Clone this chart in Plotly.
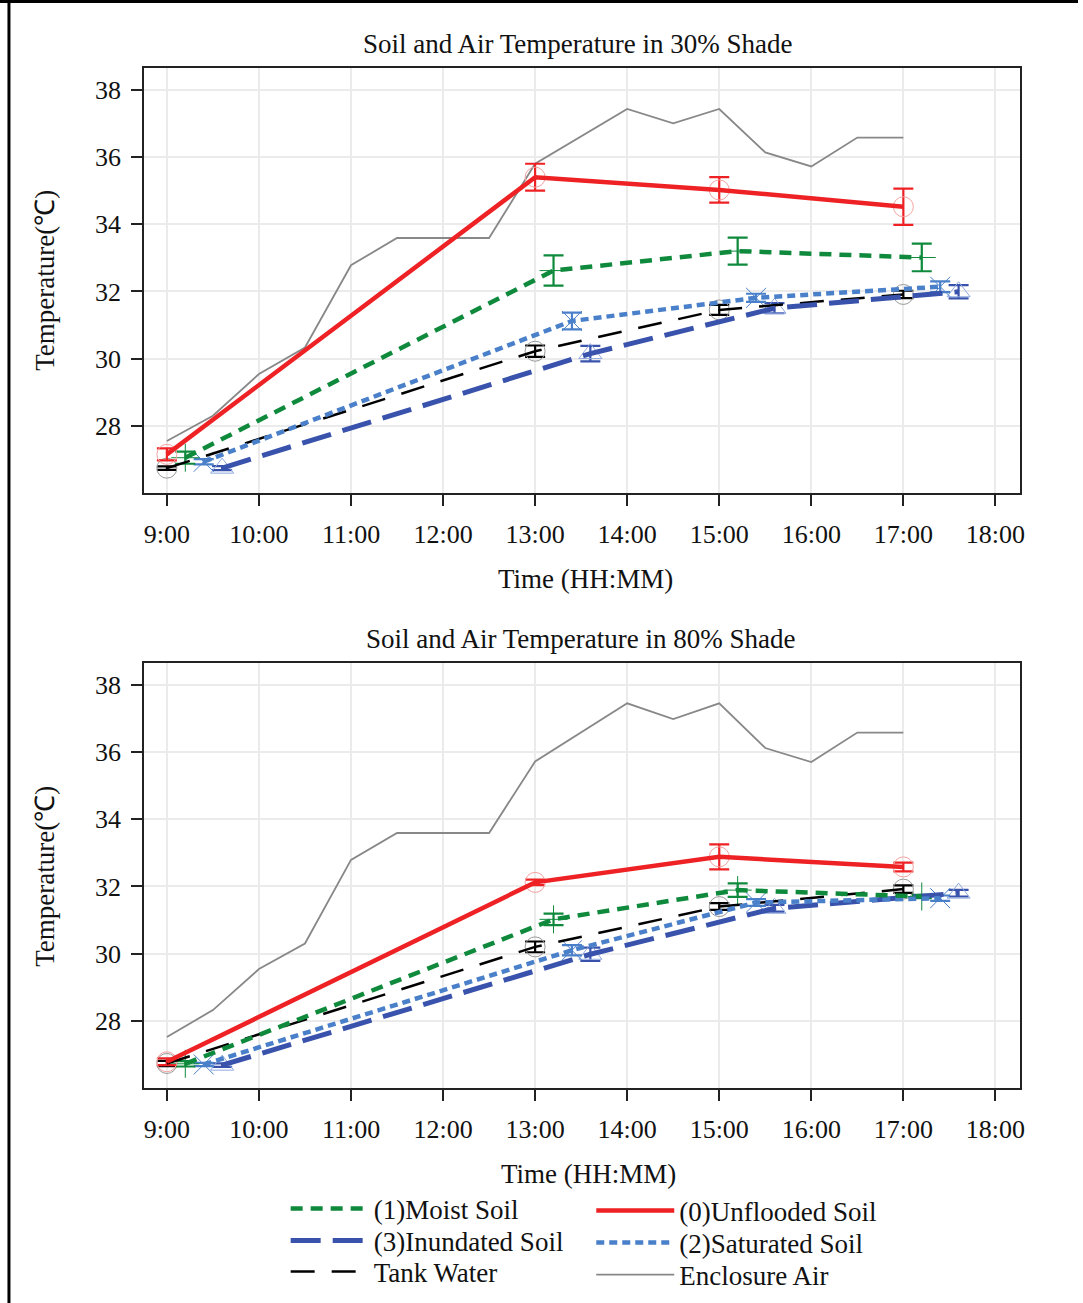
import plotly.graph_objects as go

# ---------------- data ----------------
tick_vals = [9, 10, 11, 12, 13, 14, 15, 16, 17, 18]
tick_text = ["9:00", "10:00", "11:00", "12:00", "13:00", "14:00", "15:00", "16:00", "17:00", "18:00"]
y_ticks = [28, 30, 32, 34, 36, 38]

obs_times = [9, 13, 15, 17]

# 30% shade
s30_unflooded = [27.15, 35.40, 35.02, 34.52]
s30_unflooded_err = [0.18, 0.40, 0.38, 0.54]
s30_moist = [27.05, 32.62, 33.20, 33.01]
s30_moist_err = [0.18, 0.45, 0.40, 0.41]
s30_saturated = [26.93, 31.12, 31.81, 32.14]
s30_saturated_err = [0.08, 0.25, 0.12, 0.16]
s30_inundated = [26.74, 30.15, 31.50, 31.99]
s30_inundated_err = [0.06, 0.23, 0.15, 0.20]
s30_tank = [26.74, 30.22, 31.45, 31.91]
s30_tank_err = [0.05, 0.17, 0.15, 0.11]

air_times = [9, 9.5, 10, 10.5, 11, 11.5, 12.5, 13, 14, 14.5, 15, 15.5, 16, 16.5, 17]
s30_air = [27.55, 28.30, 29.54, 30.33, 32.78, 33.59, 33.59, 35.80, 37.43, 37.00, 37.43, 36.14, 35.72, 36.58, 36.58]

# 80% shade
s80_unflooded = [26.78, 32.12, 32.88, 32.58]
s80_unflooded_err = [0.10, 0.08, 0.37, 0.13]
s80_moist = [26.72, 31.02, 31.89, 31.70]
s80_moist_err = [0.08, 0.17, 0.20, 0.05]
s80_saturated = [26.70, 30.10, 31.52, 31.65]
s80_saturated_err = [0.05, 0.15, 0.10, 0.08]
s80_inundated = [26.68, 29.98, 31.35, 31.80]
s80_inundated_err = [0.05, 0.20, 0.10, 0.10]
s80_tank = [26.73, 30.20, 31.40, 31.92]
s80_tank_err = [0.08, 0.16, 0.10, 0.11]
s80_air = [27.52, 28.32, 29.54, 30.30, 32.79, 33.59, 33.59, 35.72, 37.45, 36.98, 37.45, 36.12, 35.70, 36.58, 36.58]

# ---------------- style ----------------
FONT = "Liberation Serif"
W, H = 1083, 1303

styles = {
    "moist": dict(name="(1)Moist Soil", color="#0f8a3c", dash="12px,8px", width=4.5,
                  offset=0.2, msym="cross-thin-open", mcol="#0f8a3c"),
    "inundated": dict(name="(3)Inundated Soil", color="#3953ad", dash="30px,12px", width=5,
                      offset=0.6, msym="triangle-up-open", mcol="#8fa8e0"),
    "tank": dict(name="Tank Water", color="#000000", dash="24px,17px", width=2.5,
                 offset=0.0, msym="circle-open", mcol="#999999"),
    "unflooded": dict(name="(0)Unflooded Soil", color="#ee2225", dash="solid", width=4.5,
                      offset=0.0, msym="circle-open", mcol="#f5a3a3"),
    "saturated": dict(name="(2)Saturated Soil", color="#4a80c9", dash="8px,5px", width=4.5,
                      offset=0.4, msym="x-thin-open", mcol="#4a80c9"),
    "air": dict(name="Enclosure Air", color="#888888", dash="solid", width=1.8),
}

panels = [
    dict(xa="x", ya="y", data={
        "moist": (s30_moist, s30_moist_err), "inundated": (s30_inundated, s30_inundated_err),
        "tank": (s30_tank, s30_tank_err), "unflooded": (s30_unflooded, s30_unflooded_err),
        "saturated": (s30_saturated, s30_saturated_err)}, air=s30_air),
    dict(xa="x2", ya="y2", data={
        "moist": (s80_moist, s80_moist_err), "inundated": (s80_inundated, s80_inundated_err),
        "tank": (s80_tank, s80_tank_err), "unflooded": (s80_unflooded, s80_unflooded_err),
        "saturated": (s80_saturated, s80_saturated_err)}, air=s80_air),
]

fig = go.Figure()

draw_order = ["tank", "inundated", "saturated", "moist", "unflooded"]

for p in panels:
    st = styles["air"]
    fig.add_trace(go.Scatter(
        x=air_times, y=p["air"], mode="lines", name=st["name"],
        line=dict(color=st["color"], width=st["width"]), xaxis=p["xa"], yaxis=p["ya"],
        showlegend=False))
    for key in draw_order:
        st = styles[key]
        vals, errs = p["data"][key]
        xs = [t + st["offset"] for t in obs_times]
        fig.add_trace(go.Scatter(
            x=xs, y=vals, mode="markers", showlegend=False,
            marker=dict(symbol=st["msym"], size=20, color=st["mcol"],
                        line=dict(color=st["mcol"], width=1)),
            error_y=dict(type="data", array=errs, color=st["color"], thickness=2.2, width=10),
            xaxis=p["xa"], yaxis=p["ya"]))
    for key in draw_order:
        st = styles[key]
        vals, errs = p["data"][key]
        xs = [t + st["offset"] for t in obs_times]
        fig.add_trace(go.Scatter(
            x=xs, y=vals, mode="lines", name=st["name"], showlegend=False,
            line=dict(color=st["color"], width=st["width"], dash=st["dash"]),
            xaxis=p["xa"], yaxis=p["ya"]))

# legend entries: one legend per entry so rows can be placed freely
legend_layout = [
    ("moist", "legend", 287, 1209),
    ("inundated", "legend2", 287, 1241),
    ("tank", "legend3", 287, 1272),
    ("unflooded", "legend4", 594, 1211),
    ("saturated", "legend5", 594, 1243),
    ("air", "legend6", 594, 1275),
]
legend_defs = {}
for key, lg, lx, ly in legend_layout:
    st = styles[key]
    fig.add_trace(go.Scatter(
        x=[None], y=[None], mode="lines", name=st["name"], legend=lg,
        line=dict(color=st["color"], width=st["width"], dash=st["dash"]),
        xaxis="x", yaxis="y", showlegend=True))
    legend_defs[lg] = dict(x=lx / W, y=1 - ly / H, xanchor="left", yanchor="middle",
                           font=dict(family=FONT, size=27, color="#111111"), itemwidth=78,
                           bgcolor="rgba(0,0,0,0)")

xdom = [145 / W, 1025 / W]
ydom_top = [1 - 493 / H, 1 - 68 / H]
ydom_bot = [1 - 1088 / H, 1 - 663 / H]

axis_common = dict(
    showline=True, linecolor="#222222", linewidth=2.2, mirror=True,
    showgrid=True, gridcolor="#ebebeb", gridwidth=2,
    ticks="outside", ticklen=11, tickwidth=2, tickcolor="#222222",
    zeroline=False, tickfont=dict(family=FONT, size=26, color="#111111"),
)

fig.update_layout(
    width=W, height=H,
    margin=dict(l=0, r=0, t=0, b=0),
    paper_bgcolor="white", plot_bgcolor="white",
    font=dict(family=FONT, color="#111111"),
    xaxis=dict(domain=xdom, anchor="y", range=[8.755, 18.27], tickvals=tick_vals,
               ticktext=tick_text, ticklabelstandoff=6, **axis_common),
    yaxis=dict(domain=ydom_top, anchor="x", range=[26.0, 38.65], tickvals=y_ticks,
               ticklabelstandoff=5, **axis_common),
    xaxis2=dict(domain=xdom, anchor="y2", range=[8.755, 18.27], tickvals=tick_vals,
                ticktext=tick_text, ticklabelstandoff=6, **axis_common),
    yaxis2=dict(domain=ydom_bot, anchor="x2", range=[26.0, 38.65], tickvals=y_ticks,
                ticklabelstandoff=5, **axis_common),
    showlegend=True,
    **legend_defs,
)

ann_font = dict(family=FONT, size=27, color="#111111")
annotations = [
    dict(text="Soil and Air Temperature in 30% Shade", x=581 / W, y=1 - 44 / H),
    dict(text="Soil and Air Temperature in 80% Shade", x=584 / W, y=1 - 639 / H),
    dict(text="Time (HH:MM)", x=588 / W, y=1 - 579 / H),
    dict(text="Time (HH:MM)", x=591 / W, y=1 - 1174 / H),
]
for a in annotations:
    fig.add_annotation(xref="paper", yref="paper", showarrow=False, xanchor="center",
                       yanchor="middle", font=ann_font, **a)
for yc in [280, 876]:
    fig.add_annotation(text="Temperature(℃)", xref="paper", yref="paper", x=45 / W,
                       y=1 - yc / H, textangle=-90, showarrow=False, xanchor="center",
                       yanchor="middle", font=dict(family=FONT, size=27, color="#111111"))

# outer frame (top and left edges)
fig.add_shape(type="line", xref="paper", yref="paper", x0=0, x1=1, y0=1 - 1.5 / H, y1=1 - 1.5 / H,
              line=dict(color="black", width=3))
fig.add_shape(type="line", xref="paper", yref="paper", x0=9 / W, x1=9 / W, y0=0, y1=1,
              line=dict(color="black", width=3))

fig.write_html(
    "out.html",
    config={"displayModeBar": False},
    post_script="document.body.style.margin='0px';document.body.style.overflow='hidden';",
)
